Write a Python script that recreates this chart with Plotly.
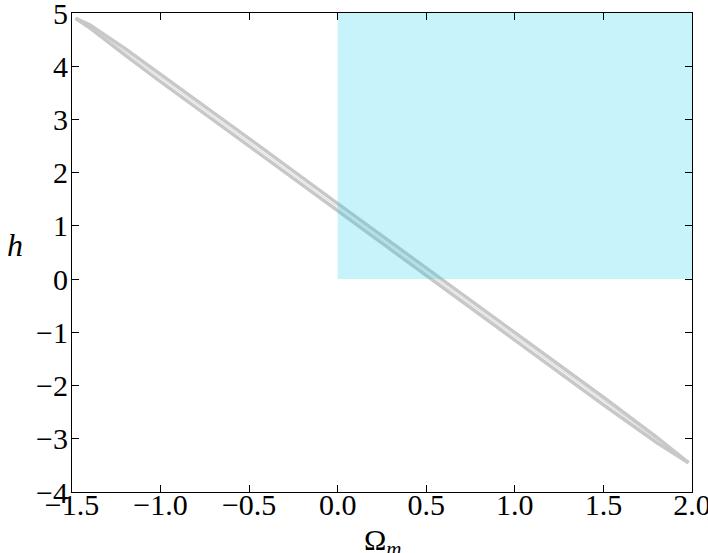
import plotly.graph_objects as go

# Omega_m sample positions along the degeneracy band
omega_m = [-1.48, -1.4, -1.2, -1.0, -0.5, 0.0, 0.5, 1.0, 1.5, 1.8, 1.98]
h_upper = [4.90, 4.78, 4.33, 3.85, 2.64, 1.42, 0.21, -1.005, -2.22, -2.97, -3.45]
h_middle = [4.90, 4.75, 4.27, 3.78, 2.57, 1.35, 0.14, -1.075, -2.29, -3.02, -3.45]
h_lower = [4.90, 4.72, 4.21, 3.71, 2.50, 1.28, 0.07, -1.145, -2.36, -3.07, -3.45]

# physical region (Omega_m >= 0, h >= 0)
region_x = [0.0, 2.0, 2.0, 0.0, 0.0]
region_h = [0.0, 0.0, 5.0, 5.0, 0.0]

x_ticks = [-1.5, -1.0, -0.5, 0.0, 0.5, 1.0, 1.5, 2.0]
x_labels = ["\u22121.5", "\u22121.0", "\u22120.5", "0.0", "0.5", "1.0", "1.5", "2.0"]
y_ticks = [-4, -3, -2, -1, 0, 1, 2, 3, 4, 5]
y_labels = ["\u22124", "\u22123", "\u22122", "\u22121", "0", "1", "2", "3", "4", "5"]

grey = "#c8c8c8"
fig = go.Figure()
fig.add_trace(go.Scatter(x=omega_m, y=h_middle, mode="lines",
                         line=dict(color="#e2e2e2", width=1.5), hoverinfo="skip"))
for hv in (h_upper, h_lower):
    fig.add_trace(go.Scatter(x=omega_m, y=hv, mode="lines",
                             line=dict(color=grey, width=3.5), hoverinfo="skip"))
fig.add_trace(go.Scatter(x=region_x, y=region_h, mode="lines", fill="toself",
                         fillcolor="rgba(0,200,230,0.22)", line=dict(width=0),
                         hoverinfo="skip"))

font = dict(family="Liberation Serif", size=30, color="black")
axis_common = dict(showline=True, mirror="ticks", linecolor="black", linewidth=1.2,
                   ticks="inside", ticklen=7, tickwidth=1, tickcolor="black",
                   showgrid=False, zeroline=False, tickfont=font,
                   ticklabeloverflow="allow", automargin=False)
fig.update_xaxes(range=[-1.5, 2.0], tickvals=x_ticks, ticktext=x_labels,
                 ticklabelstandoff=-14, **axis_common)
fig.update_yaxes(range=[-4, 5], tickvals=y_ticks, ticktext=y_labels,
                 ticklabelstandoff=-3, **axis_common)

fig.add_annotation(text="\u03a9<sub><i>m</i></sub>", xref="paper", yref="paper",
                   x=0.5, y=-0.104, showarrow=False, font=font,
                   xanchor="center", yanchor="middle")
fig.add_annotation(text="<i>h</i>", xref="paper", yref="paper",
                   x=-0.092, y=0.516, showarrow=False,
                   font=dict(family="Liberation Serif", size=32, color="black"),
                   xanchor="center", yanchor="middle")

fig.update_layout(width=708, height=553, showlegend=False,
                  plot_bgcolor="white", paper_bgcolor="white",
                  margin=dict(l=72, r=16, t=13, b=61, autoexpand=False), font=font)
fig.write_html("out.html", config={"displayModeBar": False},
               post_script="document.body.style.margin='0';")
